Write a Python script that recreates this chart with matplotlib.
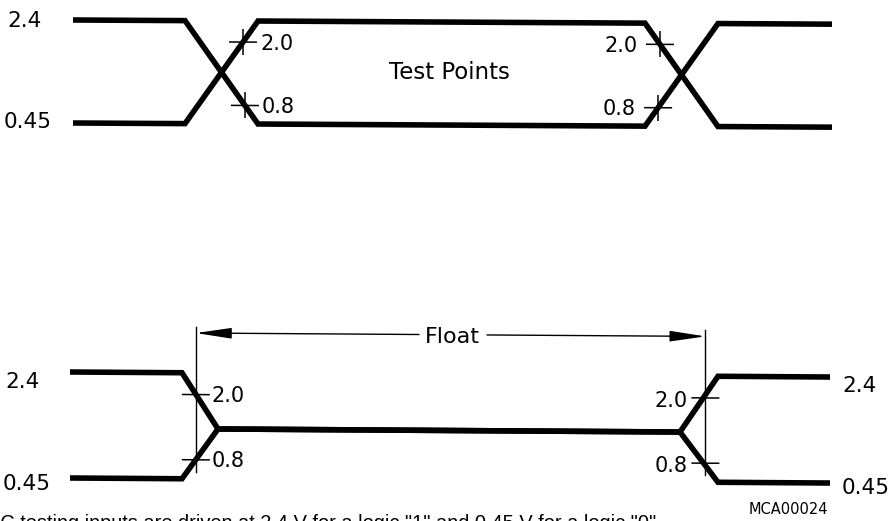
import numpy as np
import matplotlib
matplotlib.use("Agg")
import matplotlib.pyplot as plt
from matplotlib.transforms import Affine2D

W, H, DPI = 892, 521, 100

# ---------------- data (volts vs. time units) ----------------
V_HIGH = 2.4
V_LOW = 0.45
V_TEST_HIGH = 2.0
V_TEST_LOW = 0.8
V_FLOAT = 1.37

level_labels = ["2.4", "0.45"]
test_labels = ["2.0", "0.8"]

# top diagram: two complementary input waveforms
top_t = [73, 185, 258, 645, 718, 832]
top_sig_a = [2.4, 2.4, 0.45, 0.45, 2.4, 2.4]
top_sig_b = [0.45, 0.45, 2.4, 2.4, 0.45, 0.45]

# bottom diagram: outputs entering / leaving float
bot_t = [70, 182, 218, 680, 718, 830]
bot_sig_a = [2.4, 2.4, 1.37, 1.37, 2.4, 2.4]
bot_sig_b = [0.45, 0.45, 1.37, 1.37, 0.45, 0.45]

# ---------------- figure ----------------
fig = plt.figure(figsize=(W / DPI, H / DPI), dpi=DPI)
fig.patch.set_facecolor("white")

LW = 4.0
FONT = "DejaVu Sans"


def make_axes(row0, row1, px_hi, px_lo, k, x0):
    s = (px_lo - px_hi) / (V_HIGH - V_LOW)  # px per volt

    def v_at(row):
        return V_HIGH + (px_hi - row) / s

    ax = fig.add_axes([0, 1 - row1 / H, 1, (row1 - row0) / H])
    ax.set_xlim(0, W)
    ax.set_ylim(v_at(row1), v_at(row0))
    ax.axis("off")
    skew = Affine2D(np.array([[1, 0, 0], [-k, 1, k * x0], [0, 0, 1]], float))
    tr = ax.transData + skew
    return ax, tr, s


def img_xy(tr, x, v):
    dx, dy = tr.transform((x, v))
    return dx, H - dy


def ptext(x, yc, s, size, ha="left", family=FONT, **kw):
    fpx = size * DPI / 72
    base = yc + 0.365 * fpx
    fig.text(x / W, 1 - base / H, s, fontsize=size, ha=ha, va="baseline",
             family=family, color="black", **kw)


def cross_x(t, sig, i, level):
    # x where segment i -> i+1 of sig passes the given level
    v0, v1 = sig[i], sig[i + 1]
    return t[i] + (level - v0) / (v1 - v0) * (t[i + 1] - t[i])


def plus(ax, tr, s, x, v, hx=14, hy=13, vertical=True):
    ax.plot([x - hx, x + hx], [v, v], color="k", lw=1.1, transform=tr,
            solid_capstyle="butt")
    if vertical:
        ax.plot([x, x], [v - hy / s, v + hy / s], color="k", lw=1.1,
                transform=tr, solid_capstyle="butt")


# ---------- top diagram ----------
axt, trt, st = make_axes(0, 260, 20, 123, 0.0055, 73)
for sig in (top_sig_a, top_sig_b):
    axt.plot(top_t, sig, color="k", lw=LW, transform=trt,
             solid_joinstyle="miter", solid_capstyle="butt")

xl_hi = cross_x(top_t, top_sig_b, 1, V_TEST_HIGH)
xl_lo = cross_x(top_t, top_sig_a, 1, V_TEST_LOW)
xr_hi = cross_x(top_t, top_sig_b, 3, V_TEST_HIGH)
xr_lo = cross_x(top_t, top_sig_a, 3, V_TEST_LOW)
for x, v in ((xl_hi, V_TEST_HIGH), (xl_lo, V_TEST_LOW),
             (xr_hi, V_TEST_HIGH), (xr_lo, V_TEST_LOW)):
    plus(axt, trt, st, x, v)

for x, v, lab in ((xl_hi, V_TEST_HIGH, test_labels[0]),
                  (xl_lo, V_TEST_LOW, test_labels[1])):
    px, py = img_xy(trt, x, v)
    ptext(px + 17, py, lab, 15)
for x, v, lab in ((xr_hi, V_TEST_HIGH, test_labels[0]),
                  (xr_lo, V_TEST_LOW, test_labels[1])):
    px, py = img_xy(trt, x, v)
    ptext(px - 22, py, lab, 15, ha="right")

ptext(7, 19, level_labels[0], 15.5)
ptext(4, 120, level_labels[1], 15.5)
ptext(449, 71, "Test Points", 16.5, ha="center")

# ---------- bottom diagram ----------
axb, trb, sb = make_axes(260, 521, 372, 478, 0.0066, 70)
for sig in (bot_sig_a, bot_sig_b):
    axb.plot(bot_t, sig, color="k", lw=LW, transform=trb,
             solid_joinstyle="miter", solid_capstyle="butt")

bl_hi = cross_x(bot_t, bot_sig_a, 1, V_TEST_HIGH)
bl_lo = cross_x(bot_t, bot_sig_b, 1, V_TEST_LOW)
br_hi = cross_x(bot_t, bot_sig_a, 3, V_TEST_HIGH)
br_lo = cross_x(bot_t, bot_sig_b, 3, V_TEST_LOW)
xdl = 0.5 * (bl_hi + bl_lo)
xdr = 0.5 * (br_hi + br_lo) + 2

for x, v in ((xdl, V_TEST_HIGH), (xdl, V_TEST_LOW),
             (xdr, V_TEST_HIGH), (xdr, V_TEST_LOW)):
    plus(axb, trb, sb, x, v, hx=14, vertical=False)

# dimension lines for "Float"
v_arrow = V_HIGH + (372 - 332.2) / sb
v_dim_top = v_arrow + 6 / sb
v_dim_bot = V_TEST_LOW - 12 / sb
for x in (xdl, xdr):
    axb.plot([x, x], [v_dim_bot, v_dim_top], color="k", lw=1.0, transform=trb)

arrow_kw = dict(arrowstyle="-|>,head_length=2.2,head_width=0.33",
                color="k", lw=1.0, shrinkA=0, shrinkB=0, mutation_scale=10)
axb.annotate("", xy=(xdl, v_arrow), xycoords=trb,
             xytext=(419, v_arrow), textcoords=trb, arrowprops=arrow_kw)
axb.annotate("", xy=(xdr, v_arrow), xycoords=trb,
             xytext=(487, v_arrow), textcoords=trb, arrowprops=arrow_kw)
fx, fy = img_xy(trb, 452, v_arrow)
ptext(fx, fy, "Float", 16, ha="center")

for x, v, lab in ((xdl, V_TEST_HIGH, test_labels[0]),
                  (xdl, V_TEST_LOW, test_labels[1])):
    px, py = img_xy(trb, x, v)
    ptext(px + 16, py, lab, 15)
for x, v, lab in ((xdr, V_TEST_HIGH, test_labels[0]),
                  (xdr, V_TEST_LOW, test_labels[1])):
    px, py = img_xy(trb, x, v)
    ptext(px - 18, py + 1, lab, 15, ha="right")

ptext(5, 380, level_labels[0], 15.5)
ptext(3, 482, level_labels[1], 15.5)
ptext(842, 384, level_labels[0], 15.5)
ptext(842, 486, level_labels[1], 15.5)

ptext(788, 509, "MCA00024", 10.5, ha="center")

# footnote (cut off by the bottom edge, as in the source)
fig.text(-13 / W, 1 - 529 / H,
         'AC testing inputs are driven at 2.4 V for a logic "1" and 0.45 V '
         'for a logic "0".',
         fontsize=14.4, family="Liberation Sans", ha="left", va="baseline")

fig.savefig("out.png", dpi=DPI, facecolor="white")
